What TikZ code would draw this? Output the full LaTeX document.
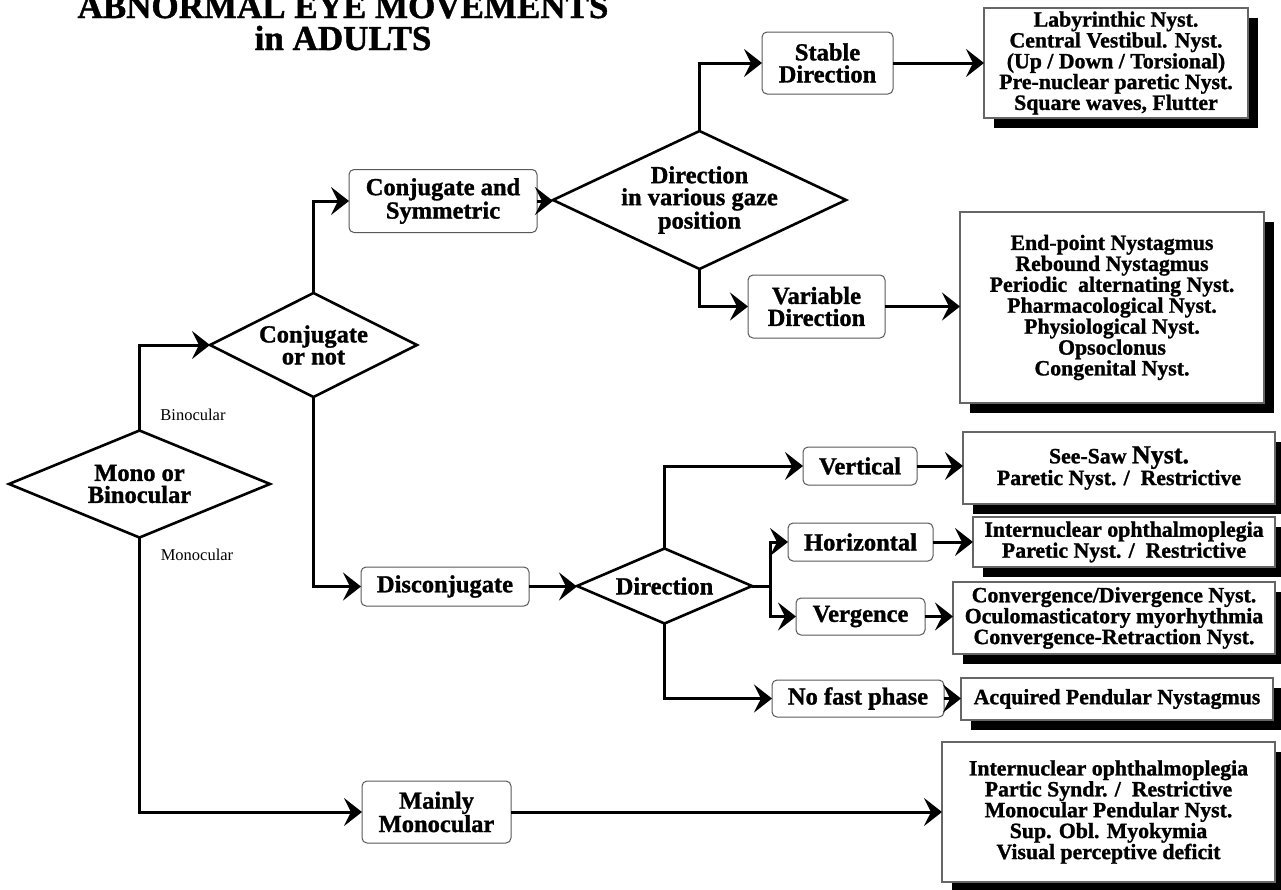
\documentclass[tikz,border=0pt]{standalone}
\usepackage{fontspec}
\setmainfont[BoldFeatures={FakeBold=1.2}]{Liberation Serif}
\usetikzlibrary{arrows.meta,shapes.geometric,shadows}
\tikzset{
  lbl/.style={font=\fontsize{24.5}{22}\selectfont\bfseries, align=center},
  txt/.style={font=\fontsize{21.8}{19.5}\selectfont\bfseries, align=center},
  small/.style={font=\fontsize{16.5}{18}\selectfont, inner sep=0pt},
  ttl/.style={font=\fontsize{35}{33}\selectfont\bfseries, inner sep=0pt, anchor=base},
  dia/.style={draw, diamond, line width=2.6pt, inner sep=0pt, outer sep=0pt},
  rbox/.style={draw=black!65, rounded corners=5pt, line width=1pt, inner sep=0pt, outer sep=0pt, fill=white, lbl},
  sbox/.style={draw=black!60, line width=1.2pt, fill=white, inner sep=0pt, outer sep=0pt, txt,
    drop shadow={shadow xshift=10pt, shadow yshift=-10pt, opacity=1, fill=black}},
  conn/.style={line width=3pt, -{Stealth[length=18pt, width=28pt, inset=7pt]}},
  plain/.style={line width=3pt}
}
\begin{document}
\begin{tikzpicture}[x=1pt, y=-1pt]
\useasboundingbox (0,0) rectangle (1281,889);
\fill[white] (0,0) rectangle (1281,889);

% title
\node[ttl] (t1) at (343,18) {ABNORMAL EYE MOVEMENTS};
\node[ttl] (t2) at (343,50) {in ADULTS};

% diamonds
\node[dia, minimum width=261pt, minimum height=107pt,
  label={[lbl]center:Mono or\\Binocular}] (A) at (139.5,484) {};
\node[dia, minimum width=207pt, minimum height=104pt,
  label={[lbl]center:Conjugate\\or not}] (B) at (313.5,345) {};
\node[dia, minimum width=293pt, minimum height=138pt,
  label={[lbl]center:Direction\\in various gaze\\position}] (D) at (699.5,200) {};
\node[dia, minimum width=175pt, minimum height=75pt,
  label={[lbl]center:Direction}] (J) at (664.5,586) {};

\node[small] (bin) at (193,415) {Binocular};
\node[small] (mon) at (197,555) {Monocular};

% rounded boxes
\node[rbox, minimum width=188pt, minimum height=63pt] (C) at (443,201) {Conjugate and\\Symmetric};
\node[rbox, minimum width=131pt, minimum height=62pt] (E) at (827.5,63) {Stable\\Direction};
\node[rbox, minimum width=137pt, minimum height=63pt] (G) at (816.5,306.5) {Variable\\Direction};
\node[rbox, minimum width=168pt, minimum height=39pt] (I) at (445,586.5) {Disconjugate};
\node[rbox, minimum width=114pt, minimum height=38pt] (K) at (860,466) {Vertical};
\node[rbox, minimum width=145pt, minimum height=38pt] (M) at (860.5,542) {Horizontal};
\node[rbox, minimum width=129pt, minimum height=37pt] (O) at (860.5,616.5) {Vergence};
\node[rbox, minimum width=172pt, minimum height=37pt] (Q) at (858,698.5) {No fast phase};
\node[rbox, minimum width=149pt, minimum height=62pt] (S) at (436.5,812) {Mainly\\Monocular};

% result boxes
\node[sbox, minimum width=264pt, minimum height=110pt] (F) at (1116,63)
  {Labyrinthic Nyst.\\Central Vestibul. Nyst.\\(Up / Down / Torsional)\\Pre-nuclear paretic Nyst.\\Square waves, Flutter};
\node[sbox, minimum width=304pt, minimum height=191pt] (H) at (1112,307.5)
  {End-point Nystagmus\\Rebound Nystagmus\\Periodic\enspace alternating Nyst.\\Pharmacological Nyst.\\Physiological Nyst.\\Opsoclonus\\Congenital Nyst.};
\node[sbox, minimum width=312pt, minimum height=72pt] (L) at (1119,468)
  {See-Saw {\fontsize{26}{19.5}\selectfont Nyst.}\\Paretic Nyst. /\enspace Restrictive};
\node[sbox, minimum width=302pt, minimum height=50pt] (N) at (1124,542)
  {Internuclear ophthalmoplegia\\Paretic Nyst. /\enspace Restrictive};
\node[sbox, minimum width=322pt, minimum height=72pt] (P) at (1114,618)
  {Convergence/Divergence Nyst.\\Oculomasticatory myorhythmia\\Convergence-Retraction Nyst.};
\node[sbox, minimum width=312pt, minimum height=42pt] (R) at (1117,699)
  {Acquired Pendular Nystagmus};
\node[sbox, minimum width=333pt, minimum height=140pt] (T) at (1108.5,812)
  {Internuclear ophthalmoplegia\\Partic Syndr. /\enspace Restrictive\\Monocular Pendular Nyst.\\Sup. Obl. Myokymia\\Visual perceptive deficit};

% connectors
\draw[conn] (A.north) |- (B.west);
\draw[conn] (B.north) |- (C.west);
\draw[conn] (C.east) -- (C.east -| D.west);
\draw[conn] (D.north) |- (E.west);
\draw[conn] (E.east) -- (E.east -| F.west);
\draw[conn] (D.south) |- (G.west);
\draw[conn] (G.east) -- (G.east -| H.west);
\draw[conn] (B.south) |- (I.west);
\draw[conn] (I.east) -- (I.east -| J.west);
\draw[conn] (J.north) |- (K.west);
\draw[conn] (K.east) -- (K.east -| L.west);
\coordinate (jx) at (770,586);
\draw[plain] (J.east) -- (jx);
\draw[conn] (jx) |- (M.west);
\draw[conn] (jx) |- (O.west);
\draw[conn] (M.east) -- (M.east -| N.west);
\draw[conn] (O.east) -- (O.east -| P.west);
\draw[conn] (J.south) |- (Q.west);
\draw[conn] (Q.east) -- (Q.east -| R.west);
\draw[conn] (A.south) |- (S.west);
\draw[conn] (S.east) -- (S.east -| T.west);
\end{tikzpicture}
\end{document}
